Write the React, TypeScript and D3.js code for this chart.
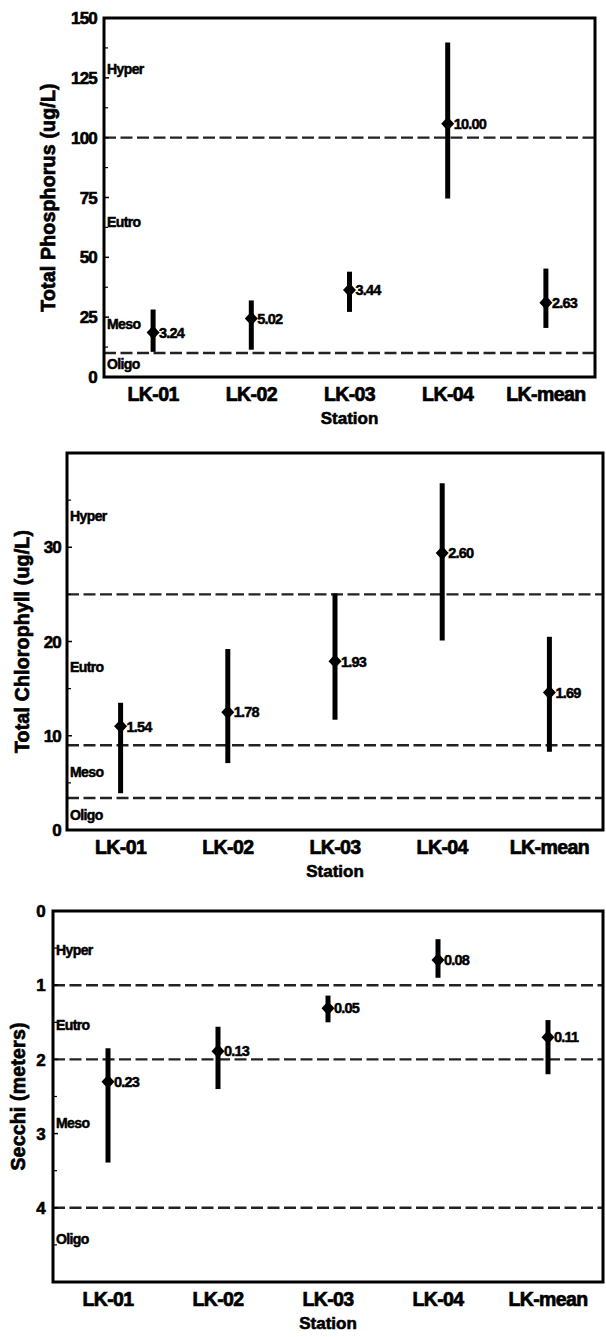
import React from "react";
import * as d3 from "d3";

const stations = ["LK-01", "LK-02", "LK-03", "LK-04", "LK-mean"];

// Total Phosphorus
const tpMean = [18.6, 24.4, 36.3, 105.8, 31];
const tpLow = [10.5, 11.4, 27.2, 74.6, 20.5];
const tpHigh = [28.2, 32, 44, 139.8, 45.3];
const tpValueLabels = ["3.24", "5.02", "3.44", "10.00", "2.63"];
const tpTicks = [0, 25, 50, 75, 100, 125, 150];
const tpMinor = [12.5, 37.5, 62.5, 87.5, 112.5, 137.5];
const tpBounds = [10, 100];
const tpZoneNames = ["Hyper", "Eutro", "Meso", "Oligo"];
const tpZoneAt = [128.8, 64.9, 22, 5.6];

// Total Chlorophyll
const chlMean = [11.0, 12.5, 17.9, 29.4, 14.6];
const chlLow = [3.9, 7.1, 11.7, 20.1, 8.3];
const chlHigh = [13.5, 19.2, 25.1, 36.8, 20.5];
const chlValueLabels = ["1.54", "1.78", "1.93", "2.60", "1.69"];
const chlTicks = [0, 10, 20, 30];
const chlMinor = [5, 15, 25, 35];
const chlBounds = [3.4, 9, 25];
const chlZoneNames = ["Hyper", "Eutro", "Meso", "Oligo"];
const chlZoneAt = [33.3, 17.3, 6.2, 1.6];

// Secchi
const secMean = [2.3, 1.89, 1.31, 0.66, 1.7];
const secLow = [1.85, 1.56, 1.14, 0.38, 1.47];
const secHigh = [3.39, 2.4, 1.5, 0.9, 2.2];
const secValueLabels = ["0.23", "0.13", "0.05", "0.08", "0.11"];
const secTicks = [0, 1, 2, 3, 4];
const secMinor = [0.5, 1.5, 2.5, 3.5, 4.5];
const secBounds = [1, 2, 4];
const secZoneNames = ["Hyper", "Eutro", "Meso", "Oligo"];
const secZoneAt = [0.53, 1.53, 2.86, 4.42];

const FONT = "'Liberation Sans', Arial, sans-serif";

type PanelProps = {
  left: number;
  right: number;
  top: number;
  bottom: number;
  domain: [number, number];
  reversed?: boolean;
  mean: number[];
  low: number[];
  high: number[];
  valueLabels: string[];
  ticks: number[];
  minor: number[];
  bounds: number[];
  zoneNames: string[];
  zoneAt: number[];
  title: string;
  titleX: number;
  tickLabelX: number;
};

const heavy = {
  fontFamily: FONT,
  fontWeight: "bold" as const,
  stroke: "#000",
  strokeWidth: 0.6,
  fill: "#000",
};

function Panel(p: PanelProps) {
  const x = d3
    .scalePoint<string>()
    .domain(stations)
    .range([p.left, p.right])
    .padding(0.5);
  const y = d3
    .scaleLinear()
    .domain(p.domain)
    .range(p.reversed ? [p.top, p.bottom] : [p.bottom, p.top]);
  const midY = (p.top + p.bottom) / 2;
  const diamond = (cx: number, cy: number) =>
    `M${cx},${cy - 7}L${cx + 6.5},${cy}L${cx},${cy + 7}L${cx - 6.5},${cy}Z`;
  return (
    <g>
      {p.bounds.map((b, i) => (
        <line
          key={"b" + i}
          x1={p.left}
          x2={p.right}
          y1={y(b)}
          y2={y(b)}
          stroke="#222"
          strokeWidth={2.4}
          strokeDasharray="12,4.5"
        />
      ))}
      <rect
        x={p.left}
        y={p.top}
        width={p.right - p.left}
        height={p.bottom - p.top}
        fill="none"
        stroke="#000"
        strokeWidth={3}
      />
      {p.ticks.map((t, i) => (
        <g key={"t" + i}>
          <line x1={p.left} x2={p.left + 5} y1={y(t)} y2={y(t)} stroke="#000" strokeWidth={1.5} />
          <text
            x={p.tickLabelX}
            y={y(t)}
            dy="0.36em"
            textAnchor="end"
            fontSize={17}
            letterSpacing={-0.8}
            {...heavy}
          >
            {t}
          </text>
        </g>
      ))}
      {p.minor.map((t, i) => (
        <line key={"m" + i} x1={p.left} x2={p.left + 4} y1={y(t)} y2={y(t)} stroke="#000" strokeWidth={1.2} />
      ))}
      {p.zoneNames.map((n, i) => (
        <text
          key={"z" + i}
          x={p.left + 3}
          y={y(p.zoneAt[i])}
          dy="0.36em"
          fontSize={14}
          letterSpacing={-0.6}
          {...heavy}
          strokeWidth={0.5}
        >
          {n}
        </text>
      ))}
      {stations.map((s, i) => {
        const cx = x(s) as number;
        return (
          <g key={s}>
            <line
              x1={cx}
              x2={cx}
              y1={y(p.low[i])}
              y2={y(p.high[i])}
              stroke="#000"
              strokeWidth={5}
            />
            <path d={diamond(cx, y(p.mean[i]))} fill="#000" />
            <text
              x={cx + 6}
              y={y(p.mean[i])}
              dy="0.36em"
              fontSize={14.5}
              letterSpacing={-0.8}
              {...heavy}
              strokeWidth={0.5}
            >
              {p.valueLabels[i]}
            </text>
          </g>
        );
      })}
      {stations.map((s) => (
        <text
          key={"x" + s}
          x={x(s) as number}
          y={p.bottom + 24}
          textAnchor="middle"
          fontSize={19.5}
          letterSpacing={-0.6}
          {...heavy}
          strokeWidth={0.7}
        >
          {s}
        </text>
      ))}
      <text
        x={(p.left + p.right) / 2}
        y={p.bottom + 47}
        textAnchor="middle"
        fontSize={17}
        {...heavy}
      >
        Station
      </text>
      <text
        transform={`translate(${p.titleX},${midY}) rotate(-90)`}
        textAnchor="middle"
        dy="0.36em"
        fontSize={19.5}
        letterSpacing={0.2}
        {...heavy}
        strokeWidth={0.7}
      >
        {p.title}
      </text>
    </g>
  );
}

export default function App() {
  return (
    <div style={{ position: "absolute", left: 0, top: 0 }}>
      <svg width={606} height={1337} style={{ display: "block", background: "#fff" }}>
        <Panel
          left={104}
          right={595}
          top={18}
          bottom={377}
          domain={[0, 150]}
          mean={tpMean}
          low={tpLow}
          high={tpHigh}
          valueLabels={tpValueLabels}
          ticks={tpTicks}
          minor={tpMinor}
          bounds={tpBounds}
          zoneNames={tpZoneNames}
          zoneAt={tpZoneAt}
          title="Total Phosphorus (ug/L)"
          titleX={48}
          tickLabelX={97}
        />
        <Panel
          left={67}
          right={603}
          top={453}
          bottom={830}
          domain={[0, 40]}
          mean={chlMean}
          low={chlLow}
          high={chlHigh}
          valueLabels={chlValueLabels}
          ticks={chlTicks}
          minor={chlMinor}
          bounds={chlBounds}
          zoneNames={chlZoneNames}
          zoneAt={chlZoneAt}
          title="Total Chlorophyll (ug/L)"
          titleX={22}
          tickLabelX={61}
        />
        <Panel
          left={53}
          right={603}
          top={911}
          bottom={1282}
          domain={[0, 5]}
          reversed
          mean={secMean}
          low={secLow}
          high={secHigh}
          valueLabels={secValueLabels}
          ticks={secTicks}
          minor={secMinor}
          bounds={secBounds}
          zoneNames={secZoneNames}
          zoneAt={secZoneAt}
          title="Secchi (meters)"
          titleX={18}
          tickLabelX={45}
        />
      </svg>
    </div>
  );
}
